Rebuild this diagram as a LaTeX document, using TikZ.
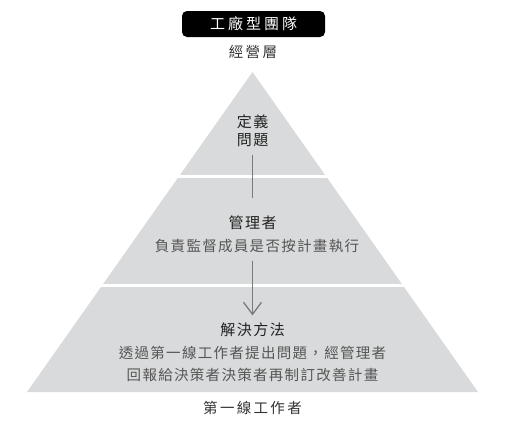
\documentclass[tikz,border=0pt]{standalone}
\usepackage{fontspec}
\setmainfont{Noto Sans CJK TC}
\usetikzlibrary{arrows.meta}
\definecolor{pyr}{HTML}{D9DADB}
\definecolor{headc}{HTML}{222222}
\definecolor{descc}{HTML}{555555}
\definecolor{labc}{HTML}{333333}
\definecolor{linec}{HTML}{7A7A7A}
\begin{document}
\begin{tikzpicture}[x=1pt,y=-1pt,
  heading/.style={inner sep=0pt, text=headc, font=\fontsize{15}{18}\selectfont\addfontfeature{LetterSpace=10}, align=center},
  desc/.style={inner sep=0pt, text=descc, font=\fontsize{14.5}{22}\selectfont\addfontfeature{LetterSpace=9}, align=center},
  lab/.style={inner sep=0pt, text=labc, font=\fontsize{14.5}{18}\selectfont\addfontfeature{LetterSpace=16}},
  conn/.style={draw=linec, line width=1.3pt},
  gapline/.style={draw=white, line width=3pt}]
\useasboundingbox (0,0) rectangle (531,445);
% pyramid
\fill[pyr] (252.5,72) -- (478,392) -- (27,392) -- cycle;
\draw[gapline] (0,176.5) -- (531,176.5);
\draw[gapline] (0,285.5) -- (531,285.5);
% title
\node[fill=black, rounded corners=5pt, minimum width=143pt, minimum height=26pt, inner sep=0pt,
      text=white, font=\fontsize{15}{18}\selectfont\addfontfeature{LetterSpace=20}] (title) at (253.5,24) {工廠型團隊};
\node[lab] (top) at (253,52) {經營層};
\node[heading] (defn) at (252.5,131) {定義\\問題};
\node[heading] (mgr) at (252.5,223) {管理者};
\node[desc] (mgrdesc) at (257,246) {負責監督成員是否按計畫執行};
\node[heading] (sol) at (252.5,330) {解決方法};
\node[desc] (soldesc) at (252.5,364) {透過第一線工作者提出問題，經管理者\\回報給決策者決策者再制訂改善計畫};
\node[lab] (bottom) at (252.5,408) {第一線工作者};
% connectors
\draw[conn, shorten <=7.5pt, shorten >=17.5pt] (defn) -- (mgr);
\draw[conn, shorten <=30.5pt, shorten >=7.5pt, -{Straight Barb[length=12pt,width=18pt]}] (mgr) -- (sol);
\end{tikzpicture}
\end{document}
